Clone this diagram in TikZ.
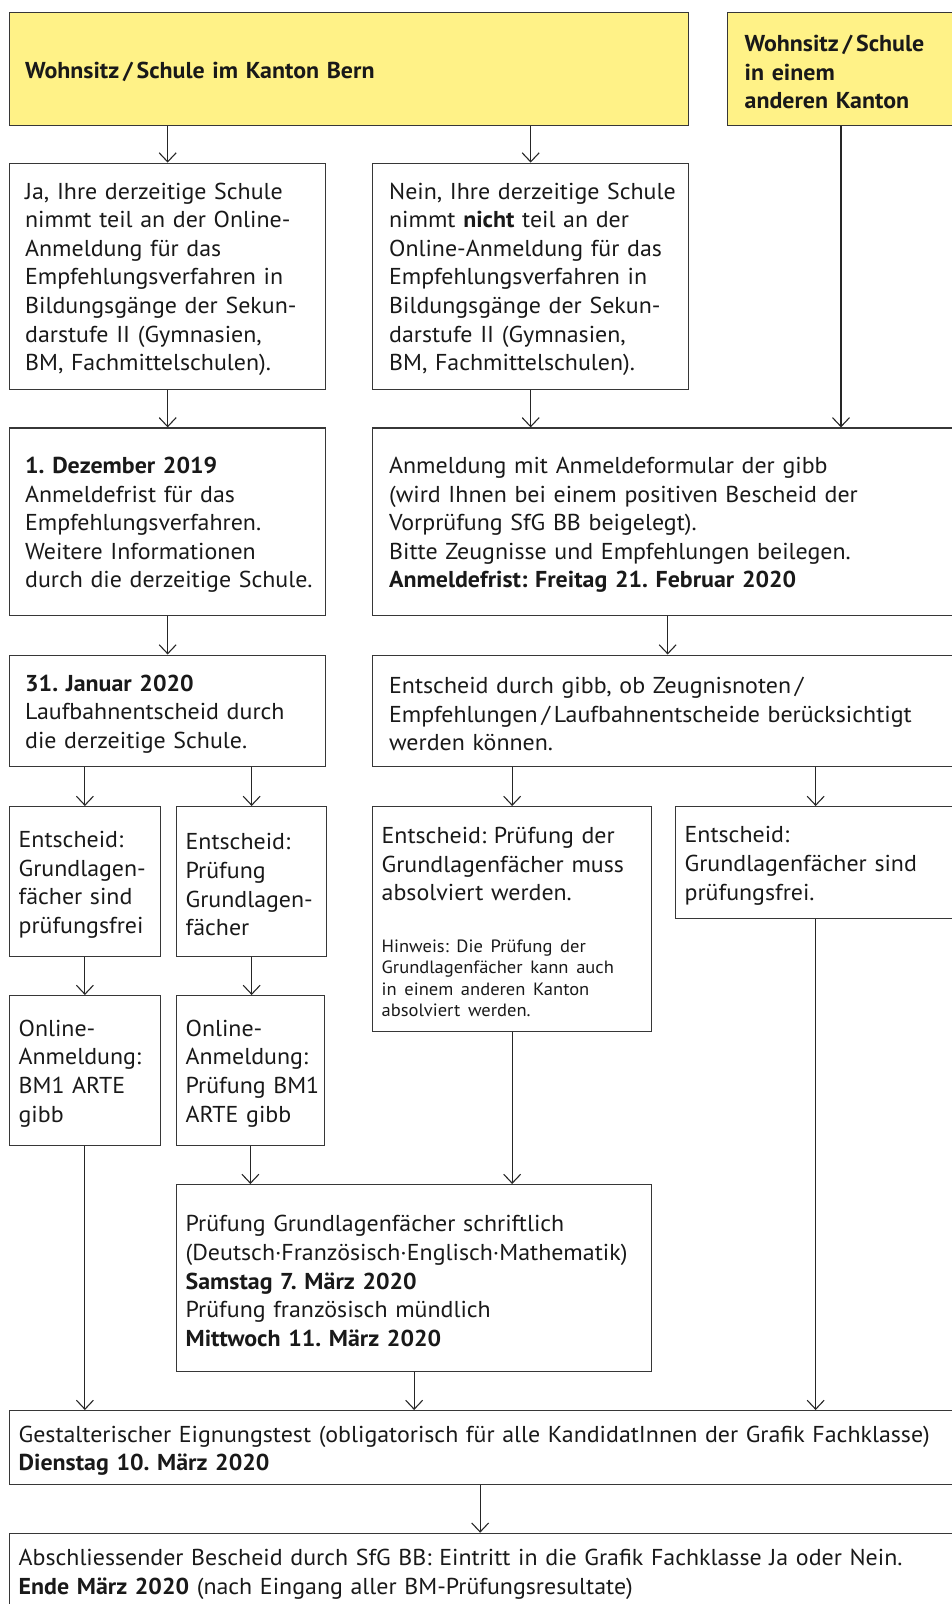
\documentclass[tikz,border=0pt]{standalone}
\usepackage{fontspec}
\setmainfont{PT Sans}[FakeStretch=1.04]
\usetikzlibrary{arrows.meta}

\definecolor{gelb}{RGB}{255,242,135}
\definecolor{linie}{RGB}{55,55,55}
\newcommand\gross{\fontsize{23}{28.6}\selectfont}
\newcommand\klein{\fontsize{17.8}{21.5}\selectfont}
\frenchspacing

\begin{document}
\begin{tikzpicture}[x=1pt,y=-1pt,
    kasten/.style={draw=linie,line width=1.3pt,anchor=north west,align=left,
      inner ysep=0pt,font=\gross,text=black!90,
      execute at begin node={\rightskip=0pt plus 1fil minus 60pt\relax\rule{0pt}{22.5pt}}},
    gelbkasten/.style={kasten,fill=gelb,font=\gross\bfseries},
    pfeil/.style={line width=1.1pt,draw=black!85,-{Straight Barb[length=9pt,width=17pt,line width=1.1pt]}}]
  \useasboundingbox (0,0) rectangle (952,1604);
  \clip (0,0) rectangle (952,1604);

  \node[gelbkasten,inner xsep=15.5pt,text width=648pt,minimum height=113pt] (bern) at (9,12)
    {Wohnsitz\,/\,Schule im Kanton Bern};
  \node[gelbkasten,inner xsep=17pt,text width=201pt,minimum height=113pt] (andere) at (727,12)
    {Wohnsitz\,/\,Schule\\ in einem\\ anderen Kanton};

  \node[kasten,inner xsep=15.5pt,text width=285pt,minimum height=226pt] (ja) at (9,162.6)
    {Ja, Ihre derzeitige Schule\\ nimmt teil an der Online-\\ Anmeldung für das\\
     Empfehlungsverfahren in\\ Bildungsgänge der Sekun-\\ darstufe II (Gymnasien,\\
     BM, Fachmittelschulen).};
  \node[kasten,inner xsep=16.5pt,text width=283pt,minimum height=226pt] (nein) at (372,162.6)
    {Nein, Ihre derzeitige Schule\\ nimmt \textbf{nicht} teil an der\\ Online-Anmeldung für das\\
     Empfehlungsverfahren in\\ Bildungsgänge der Sekun-\\ darstufe II (Gymnasien,\\
     BM, Fachmittelschulen).};

  \node[kasten,inner xsep=15.5pt,text width=285pt,minimum height=187.5pt] (dez) at (9,427.4)
    {\textbf{1. Dezember 2019}\\ Anmeldefrist für das\\ Empfehlungsverfahren.\\
     Weitere Informationen\\ durch die derzeitige Schule.};
  \node[kasten,inner xsep=16.5pt,text width=557pt,minimum height=187.5pt] (anm) at (372,427.4)
    {Anmeldung mit Anmeldeformular der gibb\\ (wird Ihnen bei einem positiven Bescheid der\\
     Vorprüfung SfG BB beigelegt).\\ Bitte Zeugnisse und Empfehlungen beilegen.\\
     \textbf{Anmeldefrist: Freitag 21. Februar 2020}};
  \coordinate (a1) at ([xshift=114pt]andere.south west);

  \node[kasten,inner xsep=15.5pt,text width=285pt,minimum height=111.5pt] (jan) at (9,654.5)
    {\textbf{31. Januar 2020}\\ Laufbahnentscheid durch\\ die derzeitige Schule.};
  \node[kasten,inner xsep=16.5pt,text width=557pt,minimum height=111.5pt] (gibb) at (372,654.5)
    {Entscheid durch gibb, ob Zeugnisnoten\,/\\ Empfehlungen\,/\,Laufbahnentscheide berücksichtigt\\
     werden können.};

  \node[kasten,inner xsep=9pt,text width=132.5pt,minimum height=150pt] (frei) at (9,806)
    {Entscheid:\\ Grundlagen-\\ fächer sind\\ prüfungsfrei};
  \node[kasten,inner xsep=9pt,text width=132pt,minimum height=150pt] (pruef) at (176,806)
    {Entscheid:\\ Prüfung\\ Grundlagen-\\ fächer};
  \node[kasten,inner xsep=9pt,text width=261pt,minimum height=225pt] (muss) at (372,806)
    {Entscheid: Prüfung der\\ Grundlagenfächer muss\\ absolviert werden.\par\vspace{30pt}
     \klein Hinweis: Die Prüfung der\\ Grundlagenfächer kann auch\\ in einem anderen Kanton\\
     absolviert werden.\par};
  \node[kasten,inner xsep=9pt,text width=262pt,minimum height=112pt] (freiR) at (675,806)
    {Entscheid:\\ Grundlagenfächer sind\\ prüfungsfrei.};

  \node[kasten,inner xsep=9pt,text width=132.5pt,minimum height=149.5pt] (onl1) at (9,995)
    {Online-\\ Anmeldung:\\ BM1 ARTE\\ gibb};
  \node[kasten,inner xsep=9pt,text width=129.5pt,minimum height=149.5pt] (onl2) at (176,995)
    {Online-\\ Anmeldung:\\ Prüfung BM1\\ ARTE gibb};

  \node[kasten,inner xsep=9pt,text width=457pt,minimum height=186.5pt] (schr) at (176,1184)
    {Prüfung Grundlagenfächer schriftlich\\ (Deutsch·Französisch·Englisch·Mathematik)\\
     \textbf{Samstag 7. März 2020}\\ Prüfung französisch mündlich\\ \textbf{Mittwoch 11. März 2020}};

  \node[kasten,inner xsep=9pt,text width=935pt,minimum height=74pt] (test) at (9,1410)
    {Gestalterischer Eignungstest (obligatorisch für alle KandidatInnen der Grafik Fachklasse)\\
     \textbf{Dienstag 10. März 2020}};
  \node[kasten,inner xsep=9pt,text width=935pt,minimum height=76pt] (ende) at (9,1532.7)
    {Abschliessender Bescheid durch SfG BB: Eintritt in die Grafik Fachklasse Ja oder Nein.\\
     \textbf{Ende März 2020} (nach Eingang aller BM-Prüfungsresultate)};
  \coordinate (t1) at ([xshift=-6pt]test.south);

  \draw[pfeil] (bern.south -| ja.north) -- (ja.north);
  \draw[pfeil] (bern.south -| nein.north) -- (nein.north);
  \draw[pfeil] (a1) -- (a1 |- anm.north);
  \draw[pfeil] (ja.south) -- (dez.north);
  \draw[pfeil] (nein.south) -- (nein.south |- anm.north);
  \draw[pfeil] (dez.south) -- (jan.north);
  \draw[pfeil] (anm.south) -- (gibb.north);
  \draw[pfeil] (jan.south -| frei.north) -- (frei.north);
  \draw[pfeil] (jan.south -| pruef.north) -- (pruef.north);
  \draw[pfeil] (gibb.south -| muss.north) -- (muss.north);
  \draw[pfeil] (gibb.south -| freiR.north) -- (freiR.north);
  \draw[pfeil] (frei.south) -- (onl1.north);
  \draw[pfeil] (pruef.south) -- (pruef.south |- onl2.north);
  \draw[pfeil] (onl2.south) -- (onl2.south |- schr.north);
  \draw[pfeil] (muss.south) -- (muss.south |- schr.north);
  \draw[pfeil] (onl1.south) -- (onl1.south |- test.north);
  \draw[pfeil] (schr.south) -- (schr.south |- test.north);
  \draw[pfeil] (freiR.south) -- (freiR.south |- test.north);
  \draw[pfeil] (t1) -- (t1 |- ende.north);
\end{tikzpicture}
\end{document}
